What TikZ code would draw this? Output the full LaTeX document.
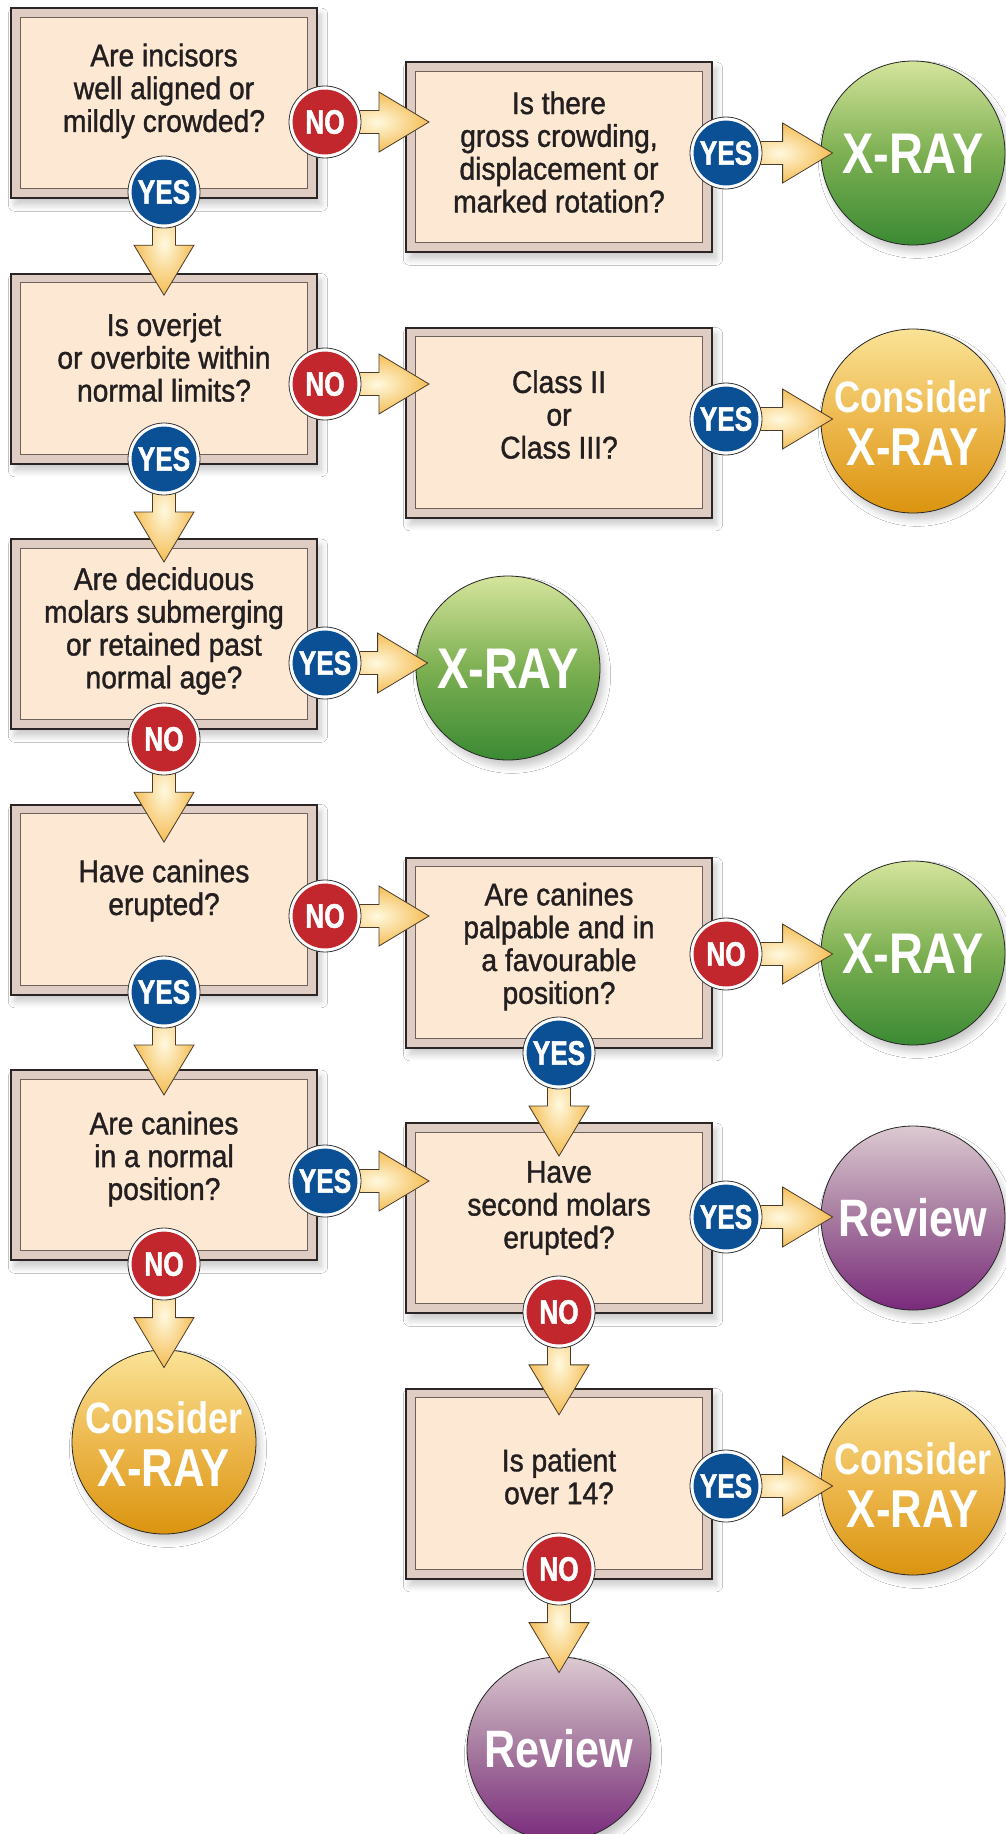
\documentclass[tikz,border=0pt]{standalone}
\usepackage{fontspec}
\setmainfont{Liberation Sans}
\newfontfamily\qfont{Liberation Sans}[FakeStretch=0.9,FakeBold=1.2]
\newfontfamily\outfont{Liberation Sans}[FakeStretch=0.82]
\newfontfamily\bdgfont{Liberation Sans}[FakeStretch=0.77,FakeBold=1.4]
\usetikzlibrary{calc,shadows.blur}
\pgfdeclarelayer{shapes}
\pgfdeclarelayer{connectors}
\pgfsetlayers{shapes,connectors,main}

\definecolor{boxline}{HTML}{2B2625}
\definecolor{band}{HTML}{DFCCC2}
\definecolor{innerline}{HTML}{6E605A}
\definecolor{peach}{HTML}{FDE9D3}
\definecolor{qtext}{HTML}{231F20}
\definecolor{nored}{HTML}{C1272D}
\definecolor{yesblue}{HTML}{0B4F95}
\definecolor{arrowedge}{HTML}{F5BD55}
\definecolor{arrowcore}{HTML}{FFF9DF}
\definecolor{arrowline}{HTML}{4A3C2C}
\definecolor{gTop}{HTML}{D5E49C}
\definecolor{gMid}{HTML}{7DB052}
\definecolor{gBot}{HTML}{3B8A34}
\definecolor{oTop}{HTML}{FAE396}
\definecolor{oMid}{HTML}{EDB84E}
\definecolor{oBot}{HTML}{DB940F}
\definecolor{pTop}{HTML}{DCC9D1}
\definecolor{pMid}{HTML}{A67A9F}
\definecolor{pBot}{HTML}{7A2A7C}

% block arrow from a badge to a target point, pointing right
\newcommand\arrowright[3]{%
  \path[flowarrow] let \p1=(#1.center), \p2=(#2) in
    (\x1,\y1+8.6pt) -- (\x2+#3-37.5pt,\y1+8.6pt) -- (\x2+#3-37.5pt,\y1+22.5pt)
    -- (\x2+#3,\y1) -- (\x2+#3-37.5pt,\y1-22.5pt) -- (\x2+#3-37.5pt,\y1-8.6pt)
    -- (\x1,\y1-8.6pt) -- cycle;}
% block arrow from a badge to a target point, pointing down
\newcommand\arrowdown[3]{%
  \path[flowarrow] let \p1=(#1.center), \p2=(#2) in
    (\x1-8.6pt,\y1) -- (\x1-8.6pt,\y2-#3+37.5pt) -- (\x1-22.5pt,\y2-#3+37.5pt)
    -- (\x1,\y2-#3) -- (\x1+22.5pt,\y2-#3+37.5pt) -- (\x1+8.6pt,\y2-#3+37.5pt)
    -- (\x1+8.6pt,\y1) -- cycle;}

\begin{document}
\begin{tikzpicture}[x=0.75pt,y=-0.75pt,
  softshadow/.style={blur shadow={shadow xshift=3pt, shadow yshift=-5pt,
    shadow blur radius=5pt, shadow blur steps=8, shadow opacity=22}},
  qbox/.style={rectangle, draw=boxline, line width=1.5pt, fill=band,
    minimum width=229.5pt, minimum height=142.5pt, inner sep=0pt, softshadow,
    path picture={\draw[line width=0.7pt, draw=innerline, fill=peach]
      ([shift={(7pt,7pt)}]path picture bounding box.south west) rectangle
      ([shift={(-7pt,-7pt)}]path picture bounding box.north east);}},
  qlabel/.style={font=\qfont\fontsize{23.5}{24.6}\selectfont, text=qtext, align=center, inner sep=0pt},
  outcirc/.style={circle, minimum size=138pt, inner sep=0pt, draw=black!85, line width=0.6pt, softshadow},
  greenout/.style={outcirc, top color=gTop, bottom color=gBot, middle color=gMid},
  orangeout/.style={outcirc, top color=oTop, bottom color=oBot, middle color=oMid},
  purpleout/.style={outcirc, top color=pTop, bottom color=pBot, middle color=pMid},
  outword/.style={font=\outfont\bfseries\fontsize{#1}{#1}\selectfont, text=white, inner sep=0pt, anchor=base},
  badge/.style={circle, minimum size=54pt, inner sep=0pt, fill=white, draw=black!80, line width=0.6pt,
    path picture={\fill[#1] (path picture bounding box.center) circle (24.3pt);},
    font=\bdgfont\bfseries\fontsize{25.5}{25.5}\selectfont, text=white},
  nobadge/.style={badge=nored},
  yesbadge/.style={badge=yesblue},
  flowarrow/.style={draw=arrowline, line width=0.6pt, line join=miter,
    inner color=arrowcore, outer color=arrowedge}
]
\useasboundingbox (0,0) rectangle (1006,1834);

\begin{pgfonlayer}{shapes}
\fill[white] (0,0) rectangle (1006,1834);
% question boxes, left column
\node[qbox] (A) at (164,103) {};
\node[qbox] (B) at (164,368.5) {};
\node[qbox] (C) at (164,634) {};
\node[qbox] (D) at (164,899.5) {};
\node[qbox] (E) at (164,1165) {};
% question boxes, right column
\node[qbox] (F) at (559,157) {};
\node[qbox] (G) at (559,422.5) {};
\node[qbox] (H) at (559,952.5) {};
\node[qbox] (I) at (559,1218) {};
\node[qbox] (J) at (559,1483.5) {};
% outcome circles
\node[greenout] (cX1) at (913,153) {};
\node[orangeout] (cC1) at (913,421) {};
\node[greenout] (cX2) at (508,668) {};
\node[greenout] (cX3) at (913,953) {};
\node[purpleout] (cR1) at (913,1218) {};
\node[orangeout] (cC2) at (164,1442) {};
\node[orangeout] (cC3) at (913,1483) {};
\node[purpleout] (cR2) at (559,1749) {};
\end{pgfonlayer}

% question texts
\node[qlabel] (tA) at (164,91) {Are incisors\\well aligned or\\mildly crowded?};
\node[qlabel] (tB) at (164,357.5) {Is overjet\\or overbite within\\normal limits?};
\node[qlabel] (tC) at (164,631) {Are deciduous\\molars submerging\\or retained past\\normal age?};
\node[qlabel] (tD) at (164,890.5) {Have canines\\erupted?};
\node[qlabel] (tE) at (164,1159) {Are canines\\in a normal\\position?};
\node[qlabel] (tF) at (559,152) {Is there\\gross crowding,\\displacement or\\marked rotation?};
\node[qlabel] (tG) at (559,414.5) {Class II\\or\\Class III?};
\node[qlabel] (tH) at (559,946.5) {Are canines\\palpable and in\\a favourable\\position?};
\node[qlabel] (tI) at (559,1208) {Have\\second molars\\erupted?};
\node[qlabel] (tJ) at (559,1476.5) {Is patient\\over 14?};

% outcome words
\node[outword=43] (wX1) at ([yshift=-15.4pt]cX1.center) {X-RAY};
\node[outword=43] (wX2) at ([yshift=-15.4pt]cX2.center) {X-RAY};
\node[outword=43] (wX3) at ([yshift=-15.4pt]cX3.center) {X-RAY};
\node[outword=39.5] (wR1) at ([yshift=-13.5pt]cR1.center) {Review};
\node[outword=39.5] (wR2) at ([yshift=-13.5pt]cR2.center) {Review};
\foreach \c in {cC1,cC2,cC3}{
  \node[outword=33] (\c-top) at ([yshift=6.7pt]\c.center) {Consider};
  \node[outword=40] (\c-bot) at ([yshift=-33.7pt]\c.center) {X-RAY};
}

% answer badges
\node[nobadge]  (bAno)  at (325,122) {NO};
\node[yesbadge] (bAyes) at (164,192) {YES};
\node[nobadge]  (bBno)  at (325,384) {NO};
\node[yesbadge] (bByes) at (164,459) {YES};
\node[yesbadge] (bCyes) at (325,663) {YES};
\node[nobadge]  (bCno)  at (164,739) {NO};
\node[nobadge]  (bDno)  at (325,916) {NO};
\node[yesbadge] (bDyes) at (164,992) {YES};
\node[yesbadge] (bEyes) at (325,1181) {YES};
\node[nobadge]  (bEno)  at (164,1264) {NO};
\node[yesbadge] (bFyes) at (726,153) {YES};
\node[yesbadge] (bGyes) at (726,419) {YES};
\node[nobadge]  (bHno)  at (726,954) {NO};
\node[yesbadge] (bHyes) at (559,1053) {YES};
\node[yesbadge] (bIyes) at (726,1217) {YES};
\node[nobadge]  (bIno)  at (559,1312) {NO};
\node[yesbadge] (bJyes) at (726,1486) {YES};
\node[nobadge]  (bJno)  at (559,1569) {NO};

% block arrows from each answer badge to the next step, under the badges
\begin{pgfonlayer}{connectors}
\arrowright{bAno}{F.west}{18pt}
\arrowright{bBno}{G.west}{18pt}
\arrowright{bCyes}{cX2.west}{9pt}
\arrowright{bDno}{H.west}{18pt}
\arrowright{bEyes}{I.west}{18pt}
\arrowright{bFyes}{cX1.west}{9pt}
\arrowright{bGyes}{cC1.west}{9pt}
\arrowright{bHno}{cX3.west}{9pt}
\arrowright{bIyes}{cR1.west}{9pt}
\arrowright{bJyes}{cC3.west}{9pt}
\arrowdown{bAyes}{B.north}{17pt}
\arrowdown{bByes}{C.north}{18pt}
\arrowdown{bCno}{D.north}{29pt}
\arrowdown{bDyes}{E.north}{19.5pt}
\arrowdown{bEno}{cC2.north}{13.5pt}
\arrowdown{bHyes}{I.north}{25.5pt}
\arrowdown{bIno}{J.north}{20.5pt}
\arrowdown{bJno}{cR2.north}{12pt}
\end{pgfonlayer}
\end{tikzpicture}
\end{document}
